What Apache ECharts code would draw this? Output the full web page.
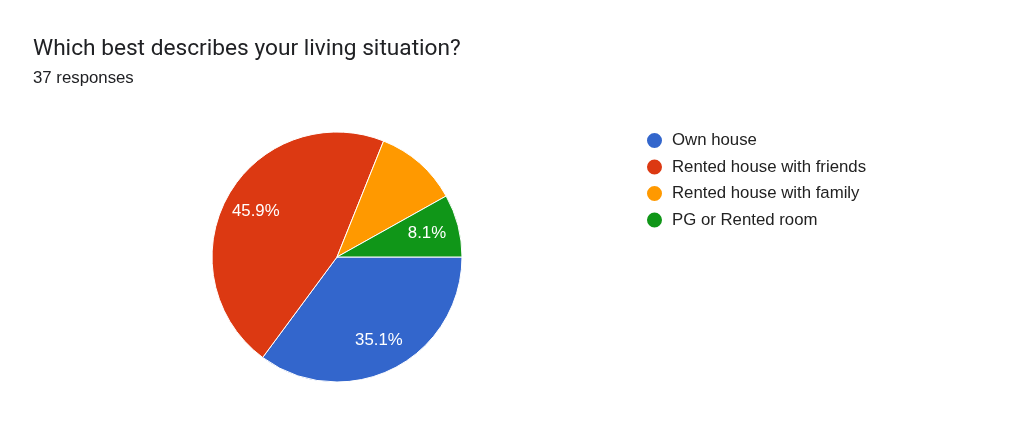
<!DOCTYPE html>
<html>
<head>
<meta charset="utf-8">
<script src="https://cdn.jsdelivr.net/npm/echarts@6/dist/echarts.min.js"></script>
<style>
html,body{margin:0;padding:0;background:#fff;}
#chart{width:1024px;height:431px;}
</style>
</head>
<body>
<div id="chart"></div>
<script>
const categories = ["Own house", "Rented house with friends", "Rented house with family", "PG or Rented room"];
const counts = [13, 17, 4, 3];
const colors = ["#3366cc", "#dc3912", "#ff9900", "#109618"];
const showLabel = [true, true, false, true];

const total = counts.reduce((a, b) => a + b, 0);
const chart = echarts.init(document.getElementById('chart'));

const pieData = categories.map((c, i) => ({ name: c, value: counts[i], itemStyle: { color: colors[i] } }));
const labelData = categories.map((c, i) => ({ name: c, value: counts[i], label: { show: showLabel[i] } }));

chart.setOption({
  animation: false,
  title: [
    { text: "Which best describes your living situation?", left: 33, top: 38, padding: 0,
      textStyle: { fontFamily: "Roboto", fontSize: 22.7, fontWeight: 'normal', color: '#202124' } },
    { text: "37 responses", left: 33, top: 70, padding: 0,
      textStyle: { fontFamily: "Liberation Sans", fontSize: 16.8, fontWeight: 'normal', color: '#202124' } }
  ],
  legend: {
    orient: 'vertical', left: 645, top: 131, padding: 0,
    icon: 'circle', itemWidth: 17, itemHeight: 17, itemGap: 7.5,
    data: categories,
    textStyle: { fontFamily: "Liberation Sans", fontSize: 16.8, lineHeight: 16, height: 16, padding: [0, 0, 0, 4], color: '#222' }
  },
  series: [
    {
      type: 'pie', center: [337, 257], radius: [0, 125],
      startAngle: 0, clockwise: true, silent: true,
      itemStyle: { borderColor: '#fff', borderWidth: 1 },
      label: { show: false }, labelLine: { show: false },
      data: pieData
    },
    {
      type: 'pie', center: [337, 257], radius: [55, 125],
      startAngle: 0, clockwise: true, silent: true,
      itemStyle: { color: 'rgba(0,0,0,0)', borderWidth: 0 },
      label: {
        show: true, position: 'inside', color: '#fff',
        fontFamily: "Liberation Sans", fontSize: 16.8,
        formatter: p => (p.value / total * 100).toFixed(1) + '%'
      },
      labelLine: { show: false },
      data: labelData
    }
  ]
});
</script>
</body>
</html>
